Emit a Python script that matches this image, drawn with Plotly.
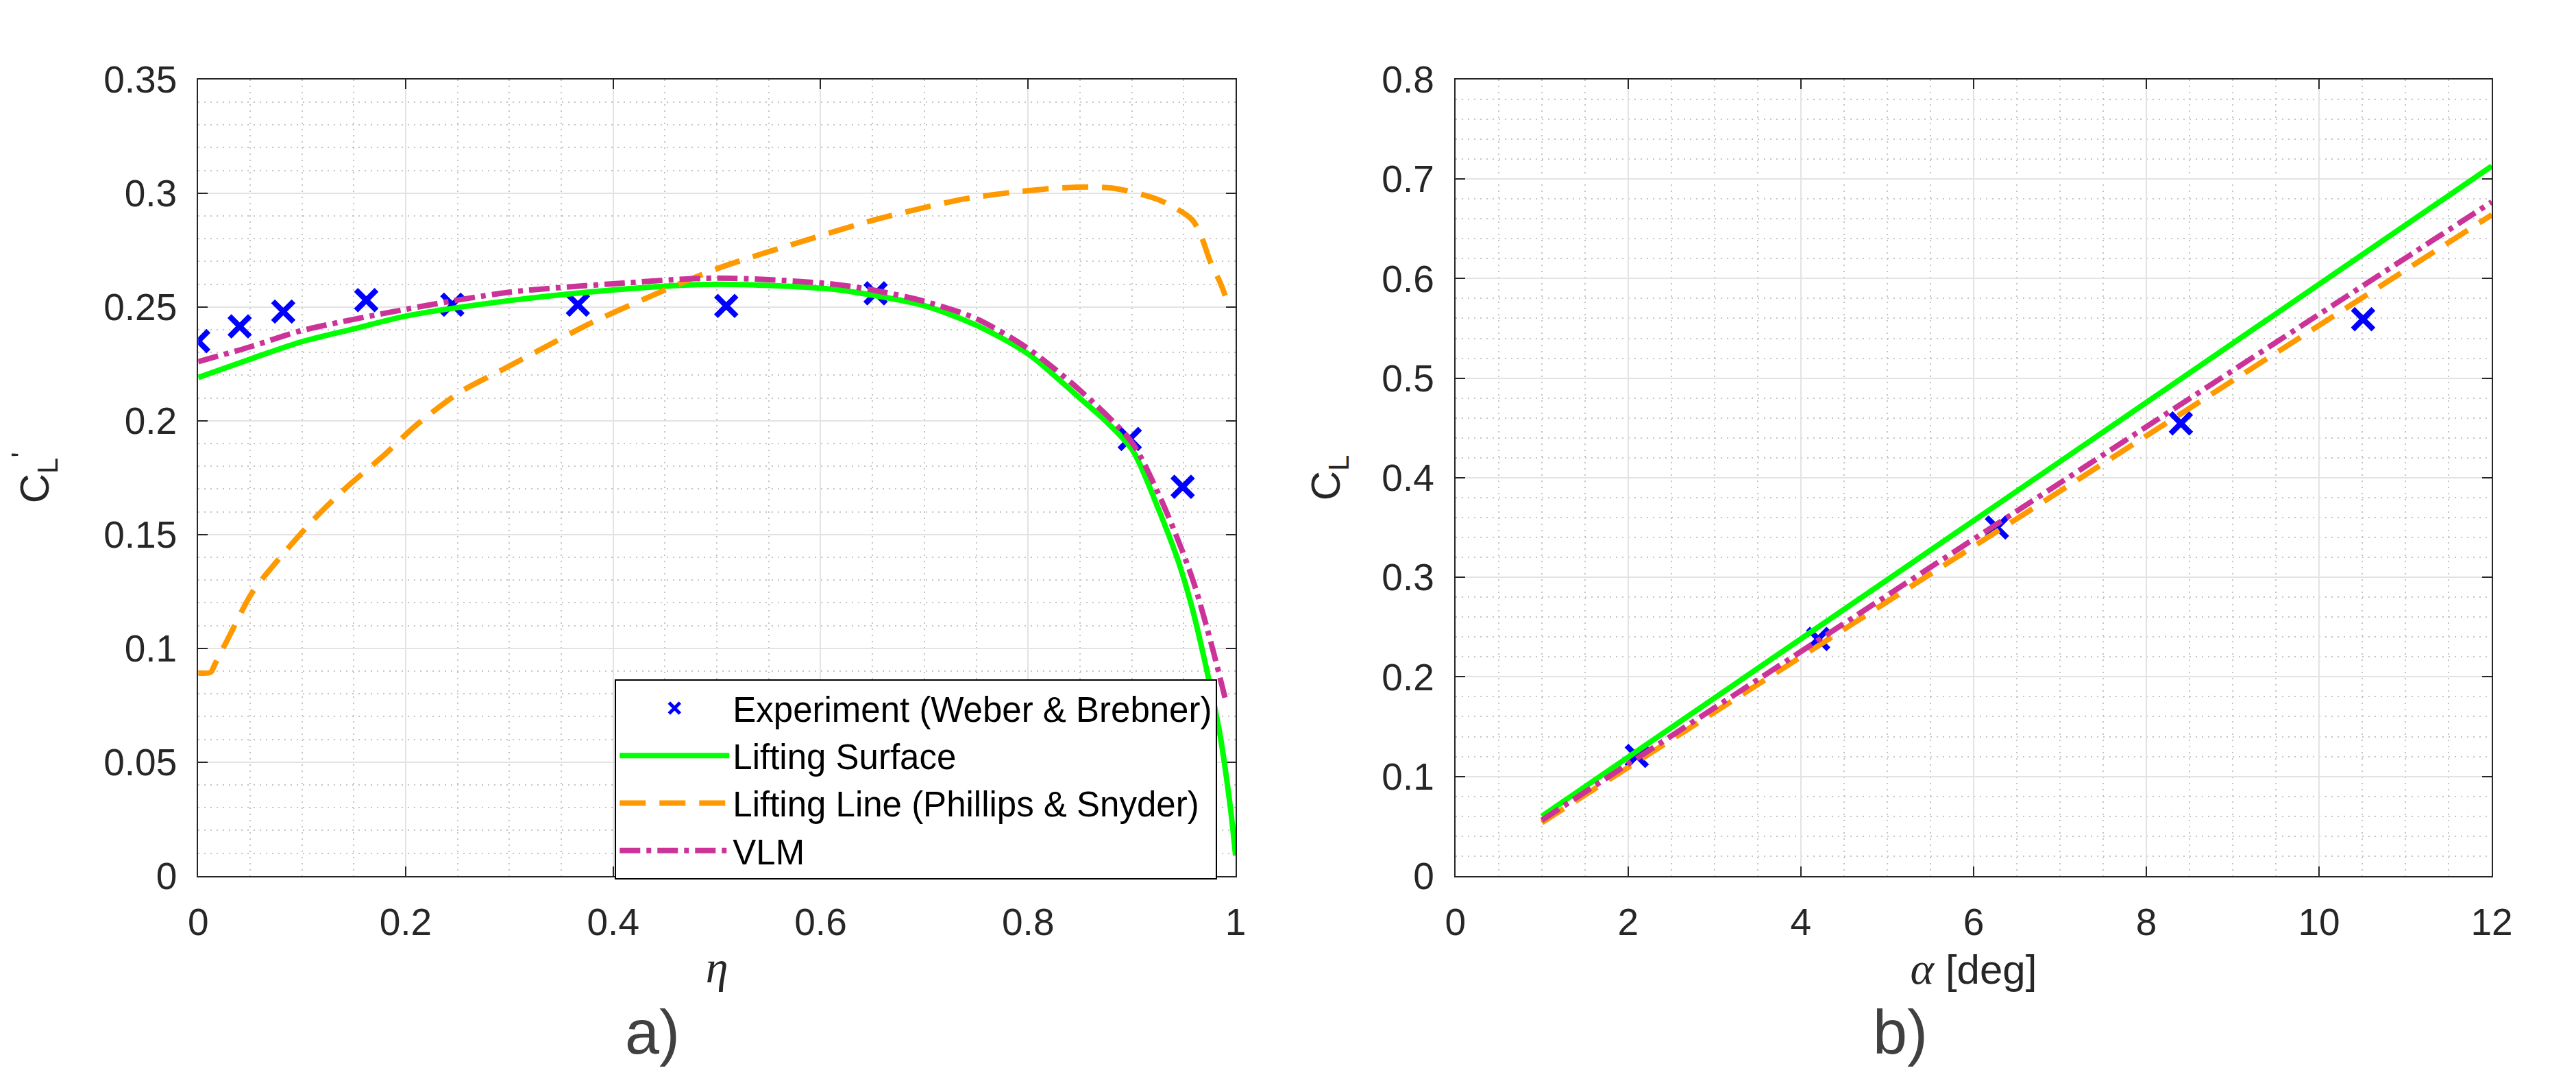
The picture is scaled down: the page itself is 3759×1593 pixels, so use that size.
import plotly.graph_objects as go

# ---------- data: panel a) spanwise lift distribution ----------
eta_exp = [0.0, 0.04, 0.082, 0.162, 0.245, 0.366, 0.509, 0.653, 0.898, 0.949]
cl_exp = [0.235, 0.2415, 0.248, 0.253, 0.251, 0.251, 0.2505, 0.256, 0.192, 0.171]

eta_ls = [0.0, 0.05, 0.0987, 0.15, 0.2, 0.293, 0.4, 0.5, 0.607, 0.65, 0.7, 0.75, 0.8,
          0.85, 0.8755, 0.9008, 0.9258, 0.945, 0.958, 0.970, 0.985, 0.995, 1.0]
cl_ls = [0.219, 0.2271, 0.2346, 0.2404, 0.246, 0.2524, 0.2575, 0.26, 0.258, 0.2552, 0.2506,
         0.242, 0.2294, 0.2099, 0.1996, 0.187, 0.161, 0.138, 0.118, 0.095, 0.062, 0.030, 0.009]

eta_ll = [0.0, 0.012, 0.016, 0.029, 0.052, 0.078, 0.110, 0.1436, 0.1774, 0.211, 0.252, 0.293,
          0.331, 0.376, 0.4284, 0.5005, 0.592, 0.648, 0.6936, 0.7388, 0.785, 0.834, 0.8806,
          0.927, 0.958, 0.967, 0.976, 0.985, 0.99]
cl_ll = [0.0892, 0.0895, 0.093, 0.1045, 0.1245, 0.1394, 0.156, 0.171, 0.1842, 0.1984, 0.2125,
         0.2224, 0.2316, 0.2424, 0.2532, 0.2669, 0.2802, 0.2878, 0.293, 0.2975, 0.3004, 0.3024,
         0.3023, 0.2969, 0.2884, 0.2809, 0.2695, 0.2609, 0.255]

eta_vlm = [0.0, 0.05, 0.0987, 0.2, 0.3, 0.4, 0.5, 0.607, 0.65, 0.7, 0.75, 0.8, 0.85, 0.9,
           0.926, 0.948, 0.961, 0.9766, 0.99]
cl_vlm = [0.226, 0.2325, 0.2395, 0.249, 0.2565, 0.2602, 0.2627, 0.2603, 0.2575, 0.2525, 0.2449,
          0.2317, 0.2134, 0.1905, 0.1676, 0.1436, 0.127, 0.102, 0.078]

# ---------- data: panel b) lift curve ----------
alpha_exp = [2.10, 4.20, 6.27, 8.40, 10.51]
cl_exp_b = [0.1206, 0.238, 0.350, 0.4546, 0.5592]
alpha_line = [1, 12]
cl_ls_b = [0.060, 0.713]
cl_ll_b = [0.0535, 0.664]
cl_vlm_b = [0.056, 0.677]

names = ["Experiment (Weber & Brebner)", "Lifting Surface",
         "Lifting Line (Phillips & Snyder)", "VLM"]

# ---------- styles ----------
BLUE = "#0000ff"
GREEN = "#00ff00"
ORANGE = "#ff9900"
PINK = "#cc3399"
AX = "#262626"
FONT = "Liberation Sans, Arial, Helvetica, sans-serif"
LW = 8
ORANGE_DASH = "38px,20px"
PINK_DASH = "30px,9px,7px,9px"
SMOOTH = 0.8

fig = go.Figure()

marker = dict(symbol="x-thin", size=30, color=BLUE, line=dict(width=8, color=BLUE))

# panel a
fig.add_trace(go.Scatter(x=eta_exp, y=cl_exp, mode="markers", marker=marker,
                         name=names[0], xaxis="x", yaxis="y"))
fig.add_trace(go.Scatter(x=eta_ls, y=cl_ls, mode="lines",
                         line=dict(color=GREEN, width=LW, shape="spline", smoothing=SMOOTH),
                         name=names[1], xaxis="x", yaxis="y"))
fig.add_trace(go.Scatter(x=eta_ll, y=cl_ll, mode="lines",
                         line=dict(color=ORANGE, width=LW, dash=ORANGE_DASH,
                                   shape="spline", smoothing=SMOOTH),
                         name=names[2], xaxis="x", yaxis="y"))
fig.add_trace(go.Scatter(x=eta_vlm, y=cl_vlm, mode="lines",
                         line=dict(color=PINK, width=LW, dash=PINK_DASH,
                                   shape="spline", smoothing=SMOOTH),
                         name=names[3], xaxis="x", yaxis="y"))

# panel b
fig.add_trace(go.Scatter(x=alpha_exp, y=cl_exp_b, mode="markers", marker=marker,
                         showlegend=False, xaxis="x2", yaxis="y2"))
fig.add_trace(go.Scatter(x=alpha_line, y=cl_ls_b, mode="lines", line=dict(color=GREEN, width=LW),
                         showlegend=False, xaxis="x2", yaxis="y2"))
fig.add_trace(go.Scatter(x=alpha_line, y=cl_ll_b, mode="lines",
                         line=dict(color=ORANGE, width=LW, dash=ORANGE_DASH),
                         showlegend=False, xaxis="x2", yaxis="y2"))
fig.add_trace(go.Scatter(x=alpha_line, y=cl_vlm_b, mode="lines",
                         line=dict(color=PINK, width=LW, dash=PINK_DASH),
                         showlegend=False, xaxis="x2", yaxis="y2"))


def axis(rng, dtick, minor_dtick, domain, anchor, title, standoff, title_size=60):
    return dict(
        range=rng, dtick=dtick, tick0=0, domain=domain, anchor=anchor,
        showline=True, linewidth=2, linecolor=AX, mirror="ticks",
        ticks="inside", ticklen=14, tickwidth=2, tickcolor=AX,
        ticklabelstandoff=18,
        showgrid=True, gridcolor="#e3e3e3", gridwidth=2,
        zeroline=False,
        minor=dict(dtick=minor_dtick, tick0=0, showgrid=True, gridcolor="#c4c4c4",
                   gridwidth=2, griddash="2px,7px", ticks=""),
        tickfont=dict(family=FONT, size=55, color=AX),
        layer="below traces",
        title=dict(text=title, font=dict(family=FONT, size=title_size, color=AX),
                   standoff=standoff),
    )


fig.update_layout(
    width=3759, height=1593,
    margin=dict(l=0, r=0, t=0, b=0),
    paper_bgcolor="white", plot_bgcolor="white",
    font=dict(family=FONT, color=AX),
    xaxis=axis([0, 1], 0.2, 0.05, [0.0717, 0.4794], "y",
               "<i><span style='font-family:Liberation Serif'>η</span></i>", 12, 66),
    yaxis=axis([0, 0.35], 0.05, 0.01, [0.1908, 0.9498], "x",
               "C<sub>L</sub><sup>'</sup>", 62),
    xaxis2=axis([0, 12], 2, 0.5, [0.5658, 0.9731], "y2",
                "<span style='font-family:Liberation Serif;font-size:66px'><i>α</i></span> [deg]", 8),
    yaxis2=axis([0, 0.8], 0.1, 0.02, [0.1908, 0.9498], "x2",
                "C<sub>L</sub>", 41),
    legend=dict(
        x=0.4722, y=0.378, xanchor="right", yanchor="top",
        bgcolor="white", bordercolor="#000000", borderwidth=2,
        font=dict(family=FONT, size=51, color="#000000"),
        itemwidth=160, tracegroupgap=0,
    ),
    annotations=[
        dict(text="a)", x=0.2501, y=0.0415, xref="paper", yref="paper",
             xanchor="center", yanchor="middle", showarrow=False,
             font=dict(family=FONT, size=90, color="#404040")),
        dict(text="b)", x=0.7406, y=0.0415, xref="paper", yref="paper",
             xanchor="center", yanchor="middle", showarrow=False,
             font=dict(family=FONT, size=90, color="#404040")),
    ],
)

fig.write_html("out.html")
